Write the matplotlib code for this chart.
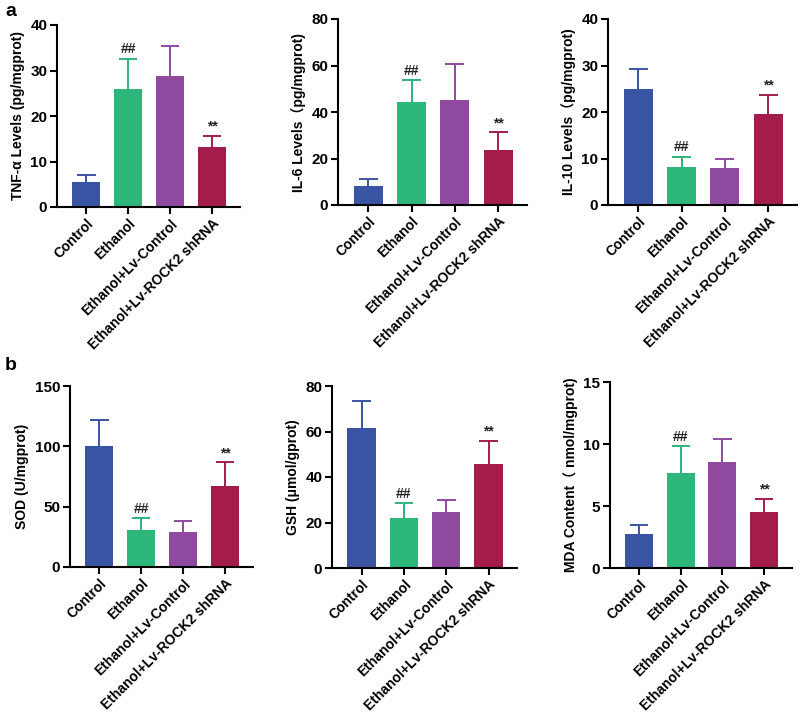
import matplotlib
matplotlib.use("Agg")
import matplotlib.pyplot as plt
import numpy as np

groups = ["Control", "Ethanol", "Ethanol+Lv-Control", "Ethanol+Lv-ROCK2 shRNA"]
colors = ["#3a54a4", "#2db77b", "#8f4aa0", "#a41c4b"]

tnf_mean = [5.6, 25.9, 28.9, 13.1]
tnf_err = [1.5, 6.7, 6.4, 2.5]
il6_mean = [8.3, 44.3, 45.0, 23.5]
il6_err = [2.7, 9.5, 15.8, 7.8]
il10_mean = [24.9, 8.2, 7.9, 19.6]
il10_err = [4.3, 2.2, 1.9, 4.1]
sod_mean = [100.5, 30.7, 29.3, 67.1]
sod_err = [21.5, 9.6, 9.1, 19.6]
gsh_mean = [61.7, 22.1, 24.6, 45.7]
gsh_err = [11.8, 6.3, 5.3, 10.1]
mda_mean = [2.77, 7.63, 8.55, 4.48]
mda_err = [0.73, 2.2, 1.82, 1.12]

ylabels = ["TNF-α Levels (pg/mgprot)", "IL-6 Levels（pg/mgprot)", "IL-10 Levels（pg/mgprot)",
           "SOD (U/mgprot)", "GSH (μmol/gprot)", "MDA Content（ nmol/mgprot)"]
ylims = [40, 80, 40, 150, 80, 15]
ytick_steps = [10, 20, 10, 50, 20, 5]
# significance marks: (group index, text)
marks = [[(1, "##"), (3, "**")]] * 6

means = [tnf_mean, il6_mean, il10_mean, sod_mean, gsh_mean, mda_mean]
errs = [tnf_err, il6_err, il10_err, sod_err, gsh_err, mda_err]

W, H = 800, 721
fig = plt.figure(figsize=(W / 100, H / 100), dpi=100)
FAM = ["Liberation Sans", "Noto Sans CJK SC", "DejaVu Sans"]
plt.rcParams['font.family'] = FAM
plt.rcParams['font.weight'] = 'bold'

# pixel boxes: left, right, top, bottom
boxes = [(57, 240, 25, 207), (338, 527, 19, 205), (608, 797, 19, 205),
         (70, 253, 386, 567), (332, 517, 386, 568), (610, 792, 382, 568)]

cap_hw = 0.22
for i, (l, r, t, b) in enumerate(boxes):
    ax = fig.add_axes([l / W, 1 - b / H, (r - l) / W, (b - t) / H])
    x = np.arange(len(groups))
    m = np.array(means[i])
    e = np.array(errs[i])
    ax.bar(x, m, width=0.67, color=colors, zorder=2)
    ax.vlines(x, m, m + e, colors=colors, linewidth=1.4, zorder=1)
    ax.hlines(m + e, x - cap_hw, x + cap_hw, colors=colors, linewidth=1.4, zorder=1)
    for j, txt in marks[i]:
        ax.text(x[j], m[j] + e[j] + ylims[i] * 0.012, txt, ha='center', va='bottom',
                fontsize=10, fontweight='bold', color='#222222')
    ax.set_xlim(-0.7, 3.67)
    ax.set_ylim(0, ylims[i])
    ax.set_yticks(np.arange(0, ylims[i] + 0.01, ytick_steps[i]))
    ax.set_xticks(x)
    ax.set_xticklabels(groups, rotation=45, ha='right', rotation_mode='anchor', fontsize=10,
                       fontweight='bold')
    for lab in ax.get_yticklabels():
        lab.set_fontsize(11)
        lab.set_fontweight('bold')
    ax.set_ylabel(ylabels[i], fontsize=10, fontweight='bold', family=FAM, labelpad=4)
    for s in ['top', 'right']:
        ax.spines[s].set_visible(False)
    for s in ['left', 'bottom']:
        ax.spines[s].set_linewidth(1.5)
    ax.tick_params(axis='both', width=1.5, length=5, direction='out', pad=2)

fig.text(5 / W, 1 - 12 / H, "a", fontsize=14, fontweight='bold', va='center', ha='left')
fig.text(5 / W, 1 - 365 / H, "b", fontsize=14, fontweight='bold', va='center', ha='left')

fig.savefig("out.png", dpi=100, facecolor='white')
